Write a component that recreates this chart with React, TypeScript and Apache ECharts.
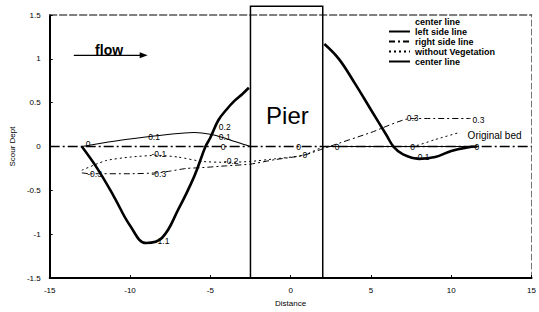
import React, { useEffect, useRef } from 'react';
import * as echarts from 'echarts';

// Thick "center line" (left of pier, then right of pier)
const centerLeftX = [-13, -12, -11, -10, -9, -8, -7, -6, -5.3, -5, -4.5, -4, -3.5, -3, -2.6];
const centerLeftY = [0, -0.26, -0.57, -0.9, -1.1, -1.04, -0.72, -0.34, 0, 0.1, 0.3, 0.42, 0.52, 0.6, 0.67];
const centerRightX = [2.1, 3, 4, 5, 6, 6.4, 7, 8, 9, 10, 11, 11.6];
const centerRightY = [1.17, 1.0, 0.72, 0.42, 0.12, 0, -0.09, -0.14, -0.12, -0.05, -0.01, 0];

// Thin solid "left side line"
const leftSideX = [-13, -11, -8.5, -6, -5, -4, -3, -2.5];
const leftSideY = [0, 0.06, 0.12, 0.16, 0.14, 0.09, 0.03, 0];
const leftSideRightX = [2.2, 11.6];
const leftSideRightY = [0, 0];

// Dash-dot "right side line"
const rightSideX = [-13, -12.5, -10, -8.3, -7.5, -6.5, -5.5, -4, -2.5, -1, 0.8, 2.4, 5, 7.5, 9, 11.2];
const rightSideY = [-0.3, -0.31, -0.31, -0.3, -0.28, -0.25, -0.24, -0.22, -0.2, -0.15, -0.1, 0, 0.16, 0.32, 0.32, 0.32];

// Dotted "without Vegetation"
const noVegX = [-13, -11.5, -10, -8.3, -7, -5.5, -4, -2.5, -1, 0.8, 2.2, 5, 7.5, 9, 10.5];
const noVegY = [-0.27, -0.16, -0.12, -0.1, -0.12, -0.17, -0.18, -0.17, -0.14, -0.1, 0, 0, 0, 0.08, 0.16];

// Original bed
const bedX = [-15, 15];
const bedY = [0, 0];

// Value annotations
const noteX = [-12.6, -8.5, -8.2, -12.2, -8.2, -8.0, -4.1, -4.1, -4.2, -3.7, 0.5, 0.8, 2.9, 7.6, 7.6, 8.2, 11.7, 11.6, 12.7];
const noteY = [0.03, 0.11, -0.09, -0.31, -0.31, -1.08, 0.22, 0.11, 0.0, -0.17, 0.0, -0.1, 0.0, 0.32, 0.0, -0.12, 0.3, 0.0, 0.12];
const noteText = ['0', '0.1', '-0.1', '-0.3', '-0.3', '-1.1', '0.2', '0.1', '0', '-0.2', '0', '-0', '0', '0.3', '0', '-0.1', '0.3', '0', 'Original bed'];

// Axis ticks
const xTicks = [-15, -10, -5, 0, 5, 10, 15];
const yTicks = [-1.5, -1, -0.5, 0, 0.5, 1, 1.5];

// Pier and flow annotation (data units)
const pierEdges = [-2.5, 2.0];
const pierSpan = [-1.5, 1.6];
const pierLabelAt = [-0.2, 0.35];
const flowLabelAt = [-11.3, 1.1];
const flowArrow = [-13.5, -8.9, 1.04];

const legendNames = ['center line', 'left side line', 'right side line', 'without Vegetation', 'center line 2'];

const pair = (xs: number[], ys: number[]) => xs.map((x, i) => [x, ys[i]]);

export default function App() {
  const ref = useRef<HTMLDivElement>(null);
  useEffect(() => {
    const chart = echarts.init(ref.current!, null, { renderer: 'svg' });
    const font = '"Liberation Sans", Arial, sans-serif';
    const option: any = {
      animation: false,
      backgroundColor: '#ffffff',
      textStyle: { fontFamily: font },
      grid: { left: 43, right: 4, top: 15, bottom: 30 },
      legend: {
        orient: 'vertical',
        left: 383,
        top: 12,
        itemWidth: 21,
        itemHeight: 8,
        itemGap: 1,
        itemStyle: { opacity: 0 },
        textStyle: { fontSize: 9, color: '#000', fontWeight: 'bold', fontFamily: font },
        formatter: (n: string) => (n === 'center line 2' ? 'center line' : n),
        data: legendNames,
      },
      xAxis: [
        {
          type: 'value', min: xTicks[0], max: xTicks[xTicks.length - 1], interval: 5,
          name: 'Distance', nameLocation: 'middle', nameGap: 19,
          nameTextStyle: { fontSize: 8, color: '#000' },
          axisLine: { show: true, onZero: false, lineStyle: { color: '#000', width: 2 } },
          axisTick: { show: true, inside: true, length: 3, lineStyle: { color: '#000' } },
          axisLabel: { fontSize: 8, color: '#000', margin: 8 },
          splitLine: { show: false },
        },
        {
          type: 'value', position: 'top', min: xTicks[0], max: xTicks[xTicks.length - 1],
          axisLine: { show: true, onZero: false, lineStyle: { color: '#555', width: 1.5, type: [7, 3] } },
          axisTick: { show: false }, axisLabel: { show: false }, splitLine: { show: false },
        },
      ],
      yAxis: [
        {
          type: 'value', min: yTicks[0], max: yTicks[yTicks.length - 1], interval: 0.5,
          name: 'Scour Dept', nameLocation: 'middle', nameGap: 33, nameRotate: 90,
          nameTextStyle: { fontSize: 8, color: '#000' },
          axisLine: { show: true, onZero: false, lineStyle: { color: '#000', width: 2 } },
          axisTick: { show: true, inside: true, length: 3, lineStyle: { color: '#000' } },
          axisLabel: { fontSize: 8, color: '#000', margin: 9 },
          splitLine: { show: false },
        },
        {
          type: 'value', position: 'right', min: yTicks[0], max: yTicks[yTicks.length - 1],
          axisLine: { show: true, onZero: false, lineStyle: { color: '#777', width: 1, type: [6, 3] } },
          axisTick: { show: false }, axisLabel: { show: false }, splitLine: { show: false },
        },
      ],
      series: [
        {
          name: 'Original bed', type: 'line', data: pair(bedX, bedY), symbol: 'none',
          lineStyle: { color: '#000', width: 1.6, type: [10, 3, 2, 3] }, silent: true, z: 1,
        },
        {
          name: 'center line', type: 'line', data: [], symbol: 'none',
          lineStyle: { color: '#000', width: 1, opacity: 0 }, itemStyle: { color: '#000' },
        },
        {
          name: 'left side line', type: 'line', symbol: 'none', smooth: 0.3,
          data: [...pair(leftSideX, leftSideY), [0, null], ...pair(leftSideRightX, leftSideRightY)],
          lineStyle: { color: '#000', width: 1.1 }, itemStyle: { color: '#000' },
        },
        {
          name: 'right side line', type: 'line', symbol: 'none', smooth: 0.2,
          data: pair(rightSideX, rightSideY),
          lineStyle: { color: '#000', width: 1, type: [6, 3, 2, 3] }, itemStyle: { color: '#000' },
        },
        {
          name: 'without Vegetation', type: 'line', symbol: 'none', smooth: 0.2,
          data: pair(noVegX, noVegY),
          lineStyle: { color: '#000', width: 1, type: [2, 3] }, itemStyle: { color: '#000' },
        },
        {
          name: 'center line 2', type: 'line', symbol: 'none', smooth: 0.4,
          data: [...pair(centerLeftX, centerLeftY), [0, null], ...pair(centerRightX, centerRightY)],
          lineStyle: { color: '#000', width: 2.6 }, itemStyle: { color: '#000' }, z: 5,
        },
        {
          name: 'notes', type: 'scatter', silent: true, symbolSize: 0.1,
          itemStyle: { color: 'rgba(0,0,0,0)', opacity: 1 },
          data: noteX.map((x, i) => ({
            value: [x, noteY[i], noteText[i]],
            label: noteText[i] === 'Original bed' ? { fontSize: 10 } : undefined,
          })),
          label: {
            show: true, position: [0, 0], align: 'center', verticalAlign: 'middle',
            color: '#000', opacity: 1, fontSize: 8.5, fontFamily: font, textBorderWidth: 0,
            formatter: (p: any) => p.value[2],
          },
          z: 6,
        },
      ],
    };
    chart.setOption(option);

    const px = (x: number, y: number) => chart.convertToPixel({ xAxisIndex: 0, yAxisIndex: 0 }, [x, y]) as number[];
    const tl = px(pierEdges[0], pierSpan[1]);
    const br = px(pierEdges[1], pierSpan[0]);
    const pl = px(pierLabelAt[0], pierLabelAt[1]);
    const fl = px(flowLabelAt[0], flowLabelAt[1]);
    const a0 = px(flowArrow[0], flowArrow[2]);
    const a1 = px(flowArrow[1], flowArrow[2]);
    chart.setOption({
      graphic: [
        {
          type: 'rect', silent: true, z: 10,
          shape: { x: tl[0], y: tl[1], width: br[0] - tl[0], height: br[1] - tl[1] },
          style: { fill: 'none', stroke: '#000', lineWidth: 1.5 },
        },
        {
          type: 'text', x: pl[0], y: pl[1], z: 10, silent: true,
          style: {
            text: 'Pier', fill: '#000', fontSize: 24, fontFamily: font,
            align: 'center', verticalAlign: 'middle', textAlign: 'center', textVerticalAlign: 'middle',
          },
        },
        {
          type: 'text', x: fl[0], y: fl[1], z: 10, silent: true,
          style: {
            text: 'flow', fill: '#000', fontSize: 14, fontWeight: 'bold', fontFamily: font,
            align: 'center', verticalAlign: 'middle', textAlign: 'center', textVerticalAlign: 'middle',
          },
        },
        {
          type: 'line', z: 10, silent: true,
          shape: { x1: a0[0], y1: a0[1], x2: a1[0] - 6, y2: a1[1] },
          style: { stroke: '#000', lineWidth: 1.3 },
        },
        {
          type: 'polygon', z: 10, silent: true,
          shape: { points: [[a1[0], a1[1]], [a1[0] - 8, a1[1] - 3], [a1[0] - 8, a1[1] + 3]] },
          style: { fill: '#000' },
        },
      ],
    });
    return () => chart.dispose();
  }, []);
  return <div ref={ref} style={{ position: 'fixed', left: 0, top: 0, width: 539, height: 312 }} />;
}
